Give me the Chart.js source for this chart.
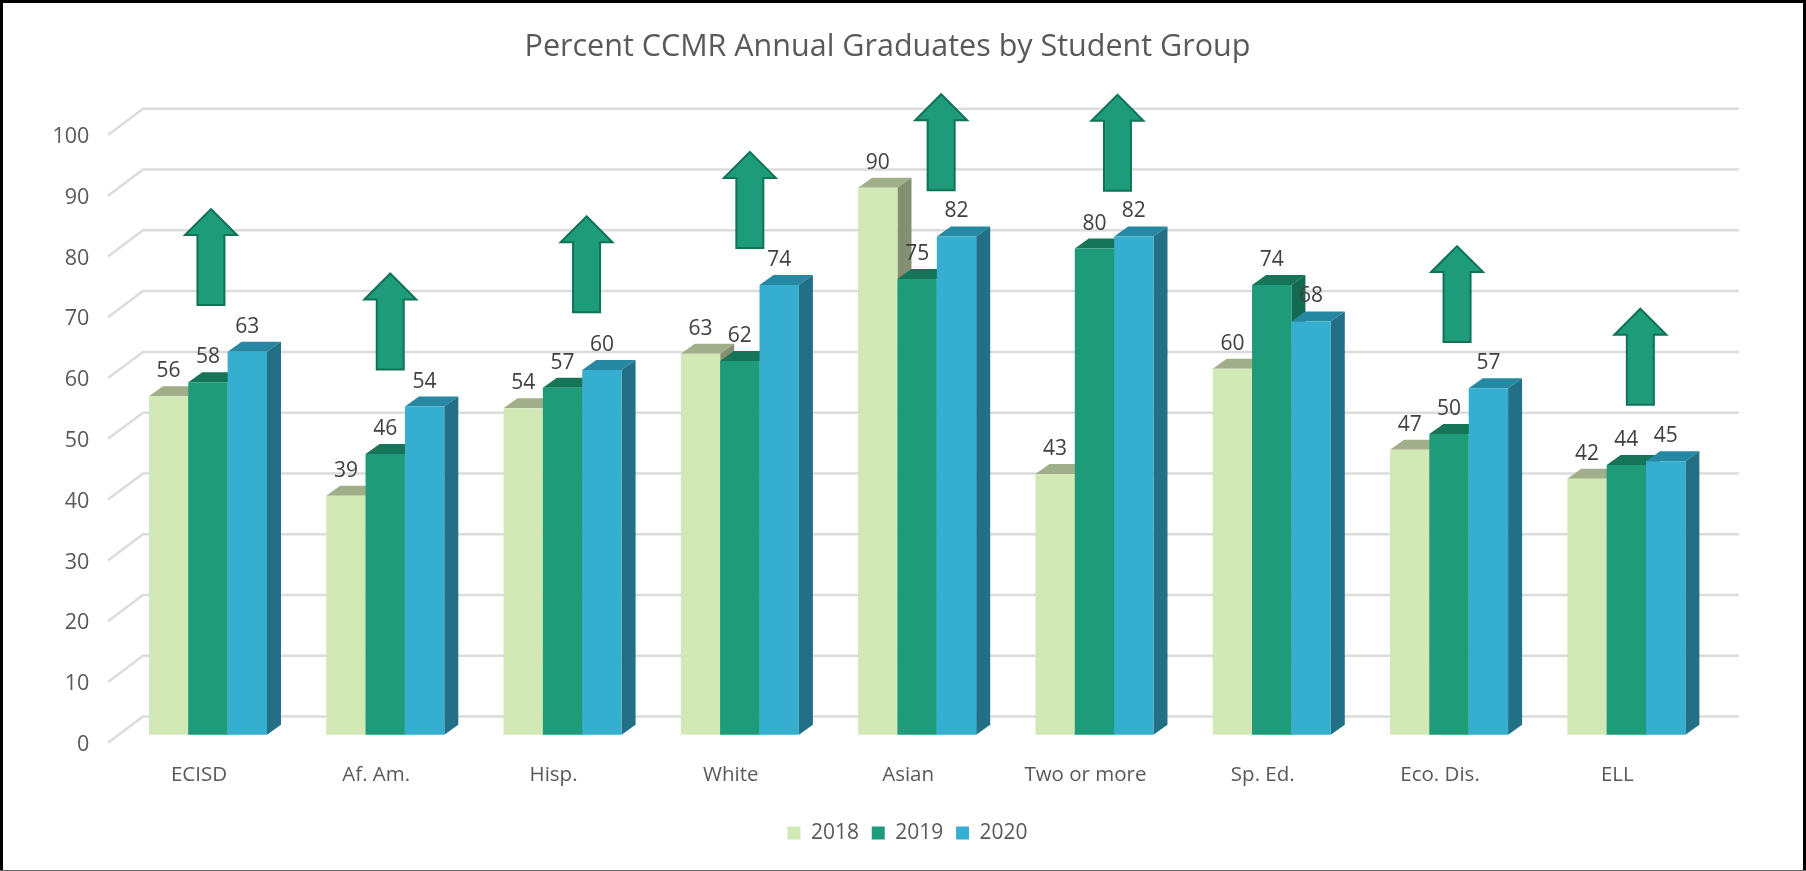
<!DOCTYPE html>
<html>
<head>
<meta charset="utf-8">
<style>
  html, body { margin: 0; padding: 0; background: #fff; }
  canvas { display: block; }
</style>
<script src="https://cdn.jsdelivr.net/npm/chart.js@4"></script>
</head>
<body>
<div style="width:1806px;height:871px"><canvas id="grafico"></canvas></div>
<script>
// ================== DATA ==================
const categorias = ["ECISD", "Af. Am.", "Hisp.", "White", "Asian", "Two or more", "Sp. Ed.", "Eco. Dis.", "ELL"];
const anos = ["2018", "2019", "2020"];
const valores2018 = [55.7, 39.3, 53.7, 62.7, 90, 42.9, 60.2, 46.9, 42.1];
const valores2019 = [58, 46.2, 57.1, 61.5, 75, 80, 74, 49.5, 44.4];
const valores2020 = [63, 54, 60, 74, 82, 82, 68, 57, 45];
const yTicks = [0, 10, 20, 30, 40, 50, 60, 70, 80, 90, 100];

// arrows: which category, tip value on the y axis, px nudge from category centre
const setaCategorias = [0, 1, 2, 3, 4, 5, 7, 8];
const setaPontas = [86.5, 75.9, 85.3, 95.9, 105.4, 105.3, 80.4, 70.1];
const setaDesvios = [3, 5, 24, 10, 24, 23, 8, 14];

// ================== STYLE ==================
const coresFrente = ["#d3e8b7", "#1e9b78", "#36aecf"];
const coresTopo = ["#a0ae89", "#167558", "#2688a3"];
const coresLado = ["#838f70", "#146a50", "#226f86"];
const corTexto = "#595959";
const corGrade = "#dcdcdc";
const fonte = "'Open Sans', sans-serif";

// depth of the fake 3D
const DX = 14, DY = 10;
const FUNDO_DY = 18.2; // back wall relative to bar front
const PAREDE_X0 = 108, PAREDE_X1 = 143, FUNDO_X1 = 1739, PAREDE_DY = 8;

// title and legend sit off the plot centre in the original
const TITULO_DESVIO = 30, LEGENDA_DESVIO = 50;

// ================== PLUGIN 3D ==================
function poligono(ctx, pts, cor) {
  ctx.fillStyle = cor;
  ctx.beginPath();
  pts.forEach((p, i) => i ? ctx.lineTo(p[0], p[1]) : ctx.moveTo(p[0], p[1]));
  ctx.closePath();
  ctx.fill();
}

const plugin3d = {
  id: "plugin3d",
  afterLayout(chart) {
    chart.titleBlock.left += TITULO_DESVIO;
    chart.titleBlock.right += TITULO_DESVIO;
    chart.legend.left += LEGENDA_DESVIO;
    chart.legend.right += LEGENDA_DESVIO;
  },
  beforeDraw(chart) {
    const ctx = chart.ctx;
    ctx.save();
    // moldura
    ctx.fillStyle = "#fff";
    ctx.fillRect(0, 0, chart.width, chart.height);
    ctx.fillStyle = "#000";
    ctx.fillRect(0, 0, 3, chart.height);
    ctx.fillRect(0, 0, chart.width, 3);
    ctx.fillRect(chart.width - 3, 0, 3, chart.height);
    ctx.fillStyle = "#666";
    ctx.fillRect(0, chart.height - 1, chart.width, 1);
    // grade
    const y = chart.scales.y;
    ctx.strokeStyle = corGrade;
    ctx.lineWidth = 2.5;
    yTicks.forEach(v => {
      const p = y.getPixelForValue(v);
      ctx.beginPath();
      ctx.moveTo(PAREDE_X0, p + PAREDE_DY);
      ctx.lineTo(PAREDE_X1, p - FUNDO_DY);
      ctx.lineTo(FUNDO_X1, p - FUNDO_DY);
      ctx.stroke();
    });
    ctx.restore();
  },
  // the library's own drawing goes last-dataset-first, here it must be first-dataset-first
  beforeDatasetDraw() {
    return false;
  },
  afterDatasetsDraw(chart) {
    const ctx = chart.ctx;
    const x = chart.scales.x, y = chart.scales.y;
    ctx.save();
    chart.data.datasets.forEach((ds, i) => {
      chart.getDatasetMeta(i).data.forEach(bar => {
        const esq = bar.x - bar.width / 2, dir = bar.x + bar.width / 2;
        poligono(ctx, [[esq, bar.y], [esq + DX, bar.y - DY], [dir + DX, bar.y - DY], [dir, bar.y]], coresTopo[i]);
        poligono(ctx, [[dir, bar.y], [dir + DX, bar.y - DY], [dir + DX, bar.base - DY], [dir, bar.base]], coresLado[i]);
        bar.draw(ctx);
      });
    });
    // setas
    setaCategorias.forEach((c, i) => {
      const cx = x.getPixelForValue(c) + setaDesvios[i];
      const topo = y.getPixelForValue(setaPontas[i]);
      const pts = [[cx, topo], [cx + 26, topo + 26], [cx + 13.5, topo + 26], [cx + 13.5, topo + 96],
                   [cx - 13.5, topo + 96], [cx - 13.5, topo + 26], [cx - 26, topo + 26]];
      poligono(ctx, pts, coresFrente[1]);
      ctx.strokeStyle = "#107256";
      ctx.lineWidth = 2;
      ctx.stroke();
    });
    // rótulos
    ctx.font = "21px " + fonte;
    ctx.fillStyle = "#404040";
    ctx.textAlign = "center";
    ctx.textBaseline = "middle";
    chart.data.datasets.forEach((ds, i) => {
      chart.getDatasetMeta(i).data.forEach((bar, j) => {
        ctx.fillText(Math.round(ds.data[j]), bar.x, bar.y - 25);
      });
    });
    ctx.restore();
  }
};

// ================== GRÁFICO ==================
new Chart(document.getElementById("grafico").getContext("2d"), {
  type: "bar",
  plugins: [plugin3d],
  data: {
    labels: categorias,
    datasets: [
      { label: anos[0], data: valores2018, backgroundColor: coresFrente[0] },
      { label: anos[1], data: valores2019, backgroundColor: coresFrente[1] },
      { label: anos[2], data: valores2020, backgroundColor: coresFrente[2] }
    ]
  },
  options: {
    responsive: true,
    maintainAspectRatio: false,
    animation: false,
    layout: { padding: { left: 0, right: 91, top: 29, bottom: 17.5 } },
    datasets: { bar: { categoryPercentage: 0.666, barPercentage: 1 } },
    plugins: {
      title: {
        display: true,
        text: "Percent CCMR Annual Graduates by Student Group",
        color: corTexto,
        font: { family: fonte, size: 30.5, weight: "normal" },
        padding: { top: 0, bottom: 61.4 }
      },
      legend: {
        position: "bottom",
        labels: {
          color: corTexto,
          font: { family: fonte, size: 21 },
          boxWidth: 13,
          boxHeight: 13,
          padding: 12.8
        }
      },
      tooltip: { enabled: false }
    },
    scales: {
      x: {
        grid: { display: false },
        border: { display: false },
        ticks: { color: corTexto, font: { family: fonte, size: 20.5 }, labelOffset: -9, padding: 20, maxRotation: 0 },
        afterFit(scale) { scale.height = 75; }
      },
      y: {
        min: 0,
        max: 100,
        grid: { display: false },
        border: { display: false },
        ticks: { color: corTexto, font: { family: fonte, size: 21.5 }, stepSize: 10, labelOffset: 10, padding: 22 },
        afterFit(scale) { scale.width = 119.3; scale.paddingTop = 0; }
      }
    }
  }
});
</script>
</body>
</html>
